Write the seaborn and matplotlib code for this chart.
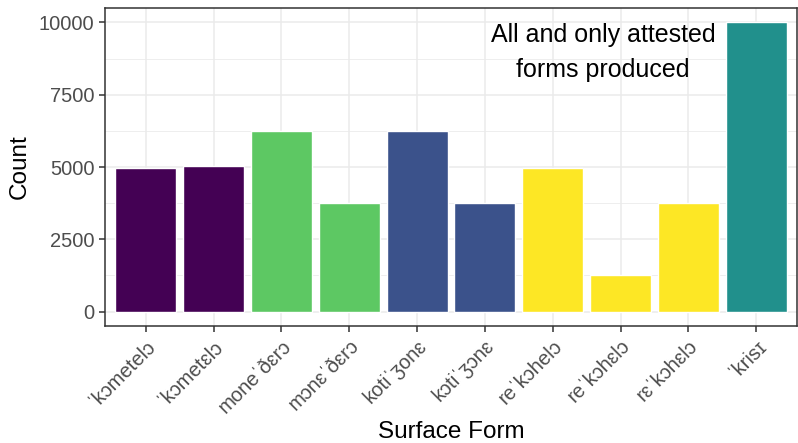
import matplotlib
matplotlib.use('Agg')
import matplotlib.pyplot as plt
import seaborn as sns
import pandas as pd
from matplotlib.ticker import MultipleLocator

# Data
forms = ['ˈkɔmetelɔ', 'ˈkɔmetɛlɔ', 'moneˈðɛrɔ', 'mɔnɛˈðɛrɔ', 'kotiˈʒonɛ',
         'kɔtiˈʒɔnɛ', 'reˈkɔhelɔ', 'reˈkɔhɛlɔ', 'rɛˈkɔhɛlɔ', 'ˈkrisɪ']
counts = [4950, 5050, 6250, 3750, 6250, 3750, 4950, 1250, 3750, 10000]
groups = ['a', 'a', 'b', 'b', 'c', 'c', 'd', 'd', 'd', 'e']
palette = {'a': '#440154', 'b': '#5DC863', 'c': '#3B528B', 'd': '#FDE725', 'e': '#21908C'}

df = pd.DataFrame({'form': forms, 'count': counts, 'group': groups})

sns.set_style('white')
plt.rcParams['font.family'] = ['Liberation Sans', 'DejaVu Sans']

fig = plt.figure(figsize=(7.98, 4.43), dpi=100)
ax = fig.add_axes([0.1316, 0.264, 0.867, 0.718])

sns.barplot(data=df, x='form', y='count', hue='group', palette=palette,
            order=forms, width=0.9, dodge=False, legend=False, ax=ax,
            saturation=1)

ax.set_ylim(-500, 10500)
ax.set_xlim(-0.6, len(forms) - 0.4)
ax.yaxis.set_major_locator(MultipleLocator(2500))
ax.yaxis.set_minor_locator(MultipleLocator(1250))
ax.grid(True, which='major', color='#EBEBEB', linewidth=1.1)
ax.grid(True, which='minor', axis='y', color='#EBEBEB', linewidth=0.6)
ax.set_axisbelow(True)
for s in ax.spines.values():
    s.set_color('#333333')
    s.set_linewidth(1.1)

ax.tick_params(axis='both', which='major', length=4, width=1.1, color='#333333',
               labelcolor='#4D4D4D', labelsize=14.5, bottom=True, left=True)
ax.tick_params(axis='y', which='minor', length=0)
ax.set_xticks(range(len(forms)))
ax.set_xticklabels(forms, rotation=45, ha='right', rotation_mode='anchor')

ax.set_xlabel('Surface Form', fontsize=17.5, color='black', labelpad=3)
ax.set_ylabel('Count', fontsize=17.5, color='black', labelpad=6)

ax.text(6.74, 8950, 'All and only attested\nforms produced', ha='center', va='center',
        fontsize=18, color='black', linespacing=1.6)

fig.savefig('out.png', dpi=100)
